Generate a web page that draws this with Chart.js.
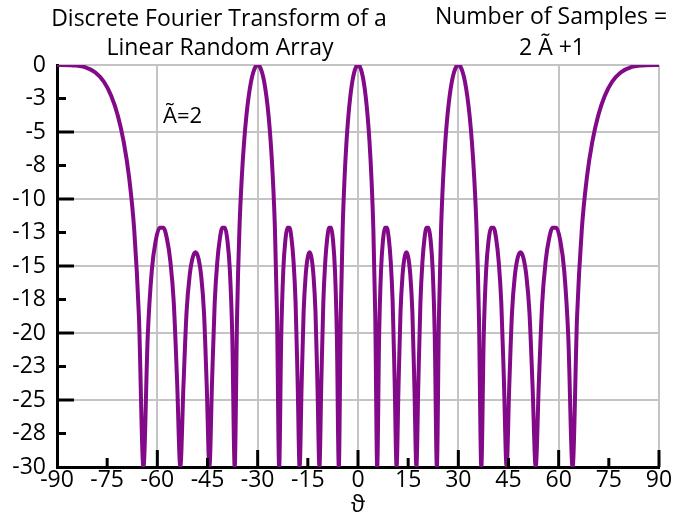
<!DOCTYPE html>
<html>
<head>
<meta charset="utf-8">
<script src="https://cdn.jsdelivr.net/npm/chart.js@4.4.1/dist/chart.umd.min.js"></script>
<style>
  body { margin: 0; background: #fff; }
  #wrap { width: 673px; height: 519px; }
</style>
</head>
<body>
<div id="wrap"><canvas id="myChart" width="673" height="519"></canvas></div>
<script>
// angle theta in degrees
const angleDeg = [
  -90, -85.95, -84.26, -81.89, -78.522, -75.93, -73.74, -71.805, -70.052, -68.434,
  -66.926, -65.505, -64.158, -62.874, -61.642, -60.459, -59.317, -58.212, -57.14, -56.097,
  -55.084, -54.096, -53.13, -52.185, -51.261, -50.354, -49.464, -48.59, -47.731, -46.886,
  -46.055, -45.235, -44.427, -43.63, -42.844, -42.067, -41.3, -40.542, -39.792, -39.05,
  -38.317, -37.59, -36.87, -36.159, -35.452, -34.751, -34.056, -33.367, -32.683, -32.005,
  -31.332, -30.664, -30, -29.341, -28.686, -28.035, -27.388, -26.744, -26.104, -25.468,
  -24.835, -24.205, -23.578, -22.954, -22.333, -21.715, -21.1, -20.487, -19.877, -19.27,
  -18.663, -18.06, -17.458, -16.858, -16.26, -15.664, -15.07, -14.478, -13.887, -13.297,
  -12.709, -12.122, -11.537, -10.953, -10.37, -9.788, -9.207, -8.627, -8.048, -7.47,
  -6.892, -6.315, -5.739, -5.164, -4.589, -4.014, -3.44, -2.866, -2.292, -1.719,
  -1.146, -0.573,
  0,
  0.573, 1.146, 1.719, 2.292, 2.866, 3.44, 4.014, 4.589, 5.164, 5.739,
  6.315, 6.892, 7.47, 8.048, 8.627, 9.207, 9.788, 10.37, 10.953, 11.537,
  12.122, 12.709, 13.297, 13.887, 14.478, 15.07, 15.664, 16.26, 16.858, 17.458,
  18.06, 18.663, 19.27, 19.877, 20.487, 21.1, 21.715, 22.333, 22.954, 23.578,
  24.205, 24.835, 25.468, 26.104, 26.744, 27.388, 28.035, 28.686, 29.341, 30,
  30.664, 31.332, 32.005, 32.683, 33.367, 34.056, 34.751, 35.452, 36.159, 36.87,
  37.59, 38.317, 39.05, 39.792, 40.542, 41.3, 42.067, 42.844, 43.63, 44.427,
  45.235, 46.055, 46.886, 47.731, 48.59, 49.464, 50.354, 51.261, 52.185, 53.13,
  54.096, 55.084, 56.097, 57.14, 58.212, 59.317, 60.459, 61.642, 62.874, 64.158,
  65.505, 66.926, 68.434, 70.052, 71.805, 73.74, 75.93, 78.522, 81.89, 84.26,
  85.95, 90
];

// magnitude in dB (clipped at the -30 floor of the plot)
const gainDb = [
  0, -0.01, -0.04, -0.14, -0.56, -1.27, -2.33, -3.78, -5.74, -8.4,
  -12.25, -18.76, -30, -20.27, -15.3, -13.08, -12.15, -12.14, -12.95, -14.67,
  -17.73, -23.55, -30, -23.9, -18.44, -15.75, -14.4, -13.98, -14.4, -15.75,
  -18.44, -23.9, -30, -23.55, -17.73, -14.67, -12.95, -12.14, -12.15, -13.08,
  -15.3, -20.27, -30, -18.76, -12.25, -8.4, -5.74, -3.78, -2.33, -1.27,
  -0.56, -0.14, 0, -0.14, -0.56, -1.27, -2.33, -3.78, -5.74, -8.4,
  -12.25, -18.76, -30, -20.27, -15.3, -13.08, -12.15, -12.14, -12.95, -14.67,
  -17.73, -23.55, -30, -23.9, -18.44, -15.75, -14.4, -13.98, -14.4, -15.75,
  -18.44, -23.9, -30, -23.55, -17.73, -14.67, -12.95, -12.14, -12.15, -13.08,
  -15.3, -20.27, -30, -18.76, -12.25, -8.4, -5.74, -3.78, -2.33, -1.27,
  -0.56, -0.14,
  0,
  -0.14, -0.56, -1.27, -2.33, -3.78, -5.74, -8.4, -12.25, -18.76, -30,
  -20.27, -15.3, -13.08, -12.15, -12.14, -12.95, -14.67, -17.73, -23.55, -30,
  -23.9, -18.44, -15.75, -14.4, -13.98, -14.4, -15.75, -18.44, -23.9, -30,
  -23.55, -17.73, -14.67, -12.95, -12.14, -12.15, -13.08, -15.3, -20.27, -30,
  -18.76, -12.25, -8.4, -5.74, -3.78, -2.33, -1.27, -0.56, -0.14, 0,
  -0.14, -0.56, -1.27, -2.33, -3.78, -5.74, -8.4, -12.25, -18.76, -30,
  -20.27, -15.3, -13.08, -12.15, -12.14, -12.95, -14.67, -17.73, -23.55, -30,
  -23.9, -18.44, -15.75, -14.4, -13.98, -14.4, -15.75, -18.44, -23.9, -30,
  -23.55, -17.73, -14.67, -12.95, -12.14, -12.15, -13.08, -15.3, -20.27, -30,
  -18.76, -12.25, -8.4, -5.74, -3.78, -2.33, -1.27, -0.56, -0.14, -0.04,
  -0.01, 0
];

const xTicks = [-90, -75, -60, -45, -30, -15, 0, 15, 30, 45, 60, 75, 90];
const yTickValues = [0, -2.5, -5, -7.5, -10, -12.5, -15, -17.5, -20, -22.5, -25, -27.5, -30];
const yTickLabels = ['0', '-3', '-5', '-8', '-10', '-13', '-15', '-18', '-20', '-23', '-25', '-28', '-30'];

const titleLeft = ['Discrete Fourier Transform of a', 'Linear Random Array'];
const titleRight = ['Number of Samples =', '2 \u00C3 +1'];
const noteText = '\u00C3=2';
const axisLabel = '\u03D1';

const FONT = "'Open Sans', 'DejaVu Sans', sans-serif";
const purple = '#820a88';
const gridGray = '#c4c4c4';

// tick marks sit inside the plot: long ones on gridline values, short ones between
const longX = xTicks.filter(v => v % 30 === 0 && v !== -90);
const shortX = xTicks.filter(v => v % 30 !== 0);
const longY = yTickValues.filter(v => v % 5 === 0 && v !== -30 && v !== 0);
const shortY = yTickValues.filter(v => v % 5 !== 0);

// short tick marks drawn by a plain line segment per value, on top of the grid
const tickMarks = {
  id: 'tickMarks',
  afterDraw(chart) {
    const ctx = chart.ctx;
    const sx = chart.scales.x, sy = chart.scales.y;
    const bottom = sy.getPixelForValue(-30);
    const left = sx.getPixelForValue(-90);
    ctx.save();
    ctx.strokeStyle = 'rgb(0,0,0)';
    ctx.lineWidth = 3;
    ctx.beginPath();
    longX.forEach(v => { const p = sx.getPixelForValue(v); ctx.moveTo(p, bottom); ctx.lineTo(p, bottom - 17); });
    shortX.forEach(v => { const p = sx.getPixelForValue(v); ctx.moveTo(p, bottom); ctx.lineTo(p, bottom - 9); });
    longY.forEach(v => { const p = sy.getPixelForValue(v); ctx.moveTo(left, p); ctx.lineTo(left + 17, p); });
    shortY.forEach(v => { const p = sy.getPixelForValue(v); ctx.moveTo(left, p); ctx.lineTo(left + 9, p); });
    ctx.stroke();
    ctx.restore();
  }
};

const texts = {
  id: 'texts',
  afterDraw(chart) {
    const ctx = chart.ctx;
    const sx = chart.scales.x, sy = chart.scales.y;
    ctx.save();
    ctx.fillStyle = '#000';
    ctx.font = '23px ' + FONT;
    ctx.textAlign = 'center';
    ctx.textBaseline = 'alphabetic';
    ctx.fillText(titleLeft[0], 219, 26);
    ctx.fillText(titleLeft[1], 220, 55);
    ctx.fillText(titleRight[0], 551, 24);
    ctx.fillText(titleRight[1], 552, 55);
    ctx.font = '22px ' + FONT;
    ctx.textAlign = 'left';
    ctx.fillText(noteText, sx.getPixelForValue(-58.3), sy.getPixelForValue(-4.33));
    ctx.restore();
  }
};

const points = angleDeg.map((a, i) => ({ x: a, y: gainDb[i] }));

new Chart(document.getElementById('myChart'), {
  type: 'line',
  data: {
    datasets: [{
      data: points,
      xAxisID: 'x',
      yAxisID: 'y',
      borderColor: purple,
      borderWidth: 4,
      pointRadius: 0,
      cubicInterpolationMode: 'monotone',
      borderJoinStyle: 'round',
      borderCapStyle: 'round'
    }]
  },
  options: {
    responsive: false,
    animation: false,
    layout: { padding: { top: 65, right: 14, left: 0, bottom: 0 } },
    plugins: { legend: { display: false }, tooltip: { enabled: false } },
    scales: {
      x: {
        type: 'linear',
        min: -90,
        max: 90,
        afterBuildTicks: s => { s.ticks = xTicks.map(v => ({ value: v })); },
        afterFit: s => { s.height = 52; },
        ticks: { color: '#000', font: { family: FONT, size: 23 }, padding: 0, maxRotation: 0, autoSkip: false },
        grid: {
          drawTicks: false,
          lineWidth: 2,
          color: c => (c.tick && c.tick.value % 30 === 0 && c.tick.value !== -90) ? gridGray : 'rgba(0,0,0,0)'
        },
        border: { color: '#000', width: 3 },
        title: { display: true, text: axisLabel, color: '#000', font: { family: FONT, size: 23 }, padding: { top: 0, bottom: 0 } }
      },
      y: {
        min: -30,
        max: 0,
        afterBuildTicks: s => { s.ticks = yTickValues.map(v => ({ value: v })); },
        afterFit: s => { s.width = 57; },
        ticks: {
          color: '#000',
          font: { family: FONT, size: 23 },
          padding: 11,
          autoSkip: false,
          callback: (value, index) => yTickLabels[index]
        },
        grid: {
          drawTicks: false,
          lineWidth: 2,
          color: c => (c.tick && c.tick.value % 5 === 0 && c.tick.value !== -30) ? gridGray : 'rgba(0,0,0,0)'
        },
        border: { color: '#000', width: 3 }
      }
    }
  },
  plugins: [tickMarks, texts]
});
</script>
</body>
</html>
